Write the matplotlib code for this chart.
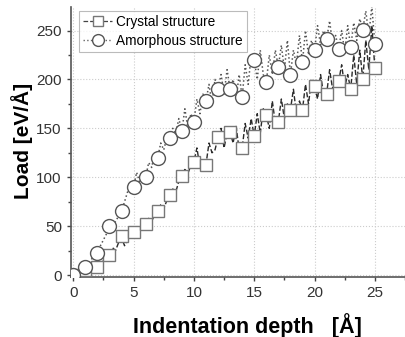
import numpy as np
import matplotlib
matplotlib.use('Agg')
import matplotlib.pyplot as plt
from matplotlib.ticker import MultipleLocator

plt.rcParams['font.family'] = ['Liberation Sans', 'DejaVu Sans']

# marker points, one per Angstrom
DEPTH = list(range(26))
CRYSTAL = [0, 5, 8, 20, 40, 44, 52, 65, 82, 101, 116, 113, 141, 146, 130,
           142, 164, 157, 169, 169, 193, 185, 198, 190, 200, 212]
AMORPH = [0, 8, 23, 50, 65, 90, 100, 120, 140, 147, 157, 178, 190, 190, 182,
          220, 197, 213, 205, 218, 230, 241, 231, 233, 251, 236]

# raw (noisy) curves, every 0.25 Angstrom
RAW_DEPTH = [i * 0.25 for i in range(101)]
CRYSTAL_RAW = [0, 1, 2, 4, 5, 6, 7, 6, 8, 12, 15, 18, 21, 28, 25, 33,
               38, 30, 36, 42, 44, 40, 47, 50, 52, 58, 55, 62, 65, 72, 68, 76,
               82, 88, 85, 96, 101, 108, 104, 112, 116, 130, 110, 118,
               113, 135, 125, 128, 141, 150, 130, 145, 146, 135, 152, 128,
               130, 155, 140, 160, 142, 165, 145, 170, 164, 150, 178, 155,
               157, 180, 160, 175, 169, 190, 165, 178, 169, 195, 175, 200,
               193, 180, 205, 185, 185, 210, 190, 200, 198, 215, 192, 205,
               190, 225, 195, 230, 200, 240, 210, 255, 212]
AMORPH_RAW = [0, 2, 4, 6, 8, 12, 16, 20, 23, 30, 36, 42, 50, 45, 55, 60,
              65, 75, 85, 88, 90, 105, 95, 102, 100, 115, 110, 125,
              120, 135, 128, 140, 140, 150, 145, 160, 147, 170, 150, 165,
              157, 180, 165, 185, 178, 195, 175, 200, 190, 205, 185, 210,
              190, 200, 180, 205, 182, 215, 195, 225, 220, 200, 230, 205,
              197, 225, 205, 230, 213, 235, 210, 240, 205, 230, 215, 245,
              218, 250, 225, 240, 230, 255, 235, 250, 241, 260, 235, 245,
              231, 250, 228, 255, 233, 258, 240, 262, 251, 270, 245, 275, 236]

fig = plt.figure(figsize=(4.05, 3.37), dpi=100)
ax = fig.add_axes([0.175, 0.178, 0.825, 0.801])

ax.plot(RAW_DEPTH, CRYSTAL_RAW, ls='--', lw=1.0, color='#2a2a2a', zorder=2)
ax.plot(RAW_DEPTH, AMORPH_RAW, ls=':', lw=1.1, color='#555555', zorder=2)
ax.plot(DEPTH, CRYSTAL, ls='none', marker='s', ms=9, mfc='white',
        mec='#777777', mew=1.0, zorder=3)
ax.plot(DEPTH, AMORPH, ls='none', marker='o', ms=10, mfc='white',
        mec='#555555', mew=1.0, zorder=4)

# legend handles
ax.plot([], [], ls='--', color='#444444', lw=0.9, marker='s', ms=9,
        mfc='white', mec='#777777', label='Crystal structure')
ax.plot([], [], ls=':', color='#666666', lw=1.0, marker='o', ms=10,
        mfc='white', mec='#555555', label='Amorphous structure')

ax.set_xlim(-0.2, 27.5)
ax.set_ylim(-2, 274)
ax.xaxis.set_major_locator(MultipleLocator(5))
ax.xaxis.set_minor_locator(MultipleLocator(2.5))
ax.yaxis.set_major_locator(MultipleLocator(50))
ax.yaxis.set_minor_locator(MultipleLocator(25))
ax.tick_params(which='major', direction='out', length=3, width=1,
               labelsize=11, colors='#444444', labelcolor='#333333')
ax.tick_params(which='minor', direction='out', length=2, width=1,
               colors='#444444')
ax.grid(True, which='major', ls=':', color='#cccccc', lw=0.8)
for s in ['top', 'right']:
    ax.spines[s].set_visible(False)
for s in ['left', 'bottom']:
    ax.spines[s].set_color('#555555')
    ax.spines[s].set_linewidth(1.2)

fig.text(0.61, 0.035, 'Indentation depth   [Å]', ha='center', va='center',
         fontsize=15.5, fontweight='bold')
fig.text(0.055, 0.582, 'Load [eV/Å]', ha='center', va='center',
         rotation=90, fontsize=15, fontweight='bold')

leg = ax.legend(loc='upper left', bbox_to_anchor=(0.025, 0.985), fontsize=9.8,
                frameon=True, fancybox=False, handlelength=2.1,
                handletextpad=0.3, borderpad=0.3, labelspacing=0.35,
                borderaxespad=0, markerscale=0.85)
leg.get_frame().set_edgecolor('#aaaaaa')
leg.get_frame().set_linewidth(0.8)

fig.savefig('out.png', dpi=100)
